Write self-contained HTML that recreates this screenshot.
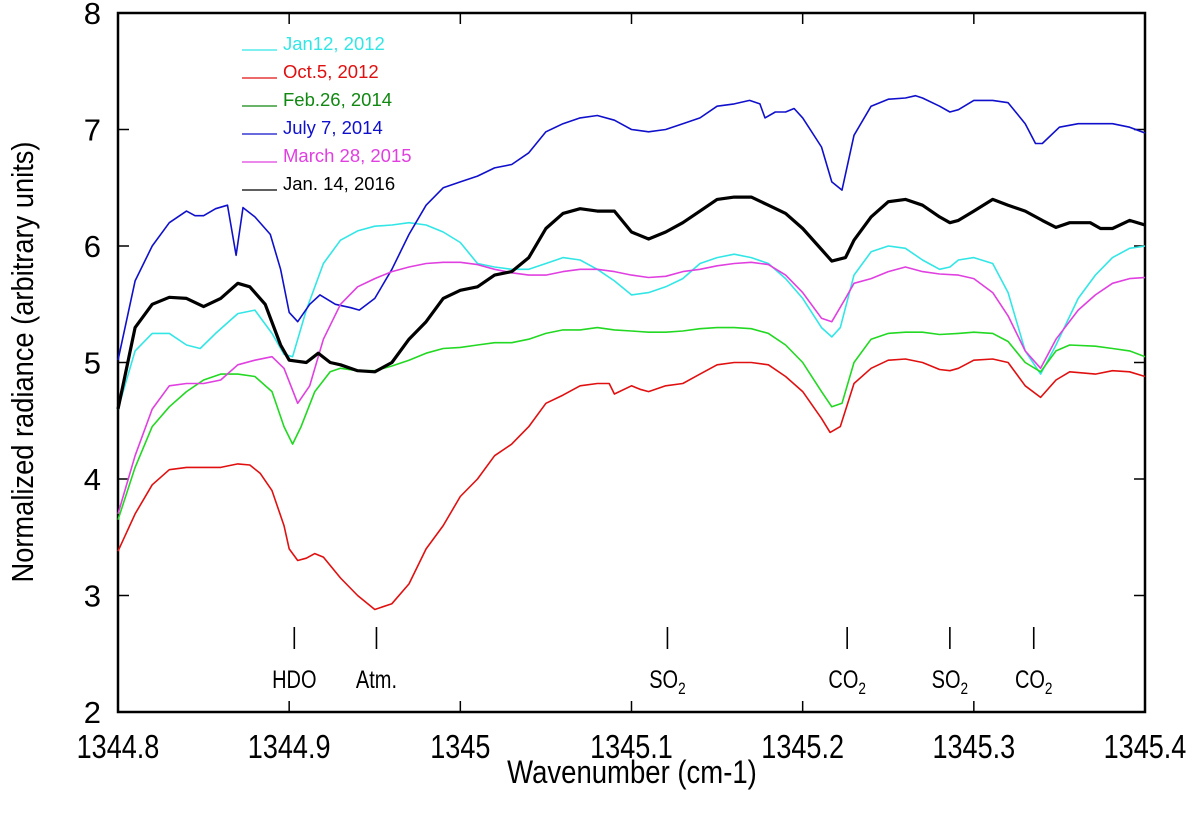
<!DOCTYPE html>
<html><head><meta charset="utf-8"><style>
body{margin:0;background:#fff}
svg{display:block}
.ax{font-family:"Liberation Sans",sans-serif;}
</style></head><body>
<svg id="chart" width="1200" height="815" xmlns="http://www.w3.org/2000/svg"></svg>
<script>
const base = 1344.8;
const xTicks = [1344.8,1344.9,1345,1345.1,1345.2,1345.3,1345.4];
const xTickLabels = ["1344.8","1344.9","1345","1345.1","1345.2","1345.3","1345.4"];
const yTicks = [2,3,4,5,6,7,8];
const seriesNames = ["Jan12, 2012","Oct.5, 2012","Feb.26, 2014","July 7, 2014","March 28, 2015","Jan. 14, 2016"];
const seriesColors = ["#33e6e6","#e01010","#22d822","#1010cc","#e040e0","#000000"];
const legendColors = ["#33e6e6","#e01010","#118811","#1010cc","#e040e0","#000000"];
// offsets from base (cm-1)
const cyanX=[0,.01,.02,.03,.04,.048,.057,.07,.08,.09,.097,.102,.11,.12,.13,.14,.15,.16,.17,.18,.19,.2,.21,.22,.23,.24,.25,.26,.27,.28,.29,.3,.31,.32,.33,.34,.35,.36,.37,.38,.39,.4,.411,.417,.422,.43,.44,.45,.46,.47,.48,.486,.491,.5,.511,.52,.53,.539,.548,.561,.571,.581,.591,.6];
const cyanY=[4.6,5.1,5.25,5.25,5.15,5.12,5.25,5.42,5.45,5.25,5.07,5.05,5.45,5.85,6.05,6.13,6.17,6.18,6.2,6.18,6.12,6.03,5.85,5.82,5.8,5.8,5.85,5.9,5.88,5.8,5.7,5.58,5.6,5.65,5.72,5.85,5.9,5.93,5.9,5.85,5.72,5.55,5.3,5.22,5.3,5.75,5.95,6.0,5.98,5.88,5.8,5.82,5.88,5.9,5.85,5.6,5.1,4.9,5.15,5.55,5.75,5.9,5.98,6.0];
const redX=[0,.01,.02,.03,.04,.05,.06,.07,.077,.083,.09,.097,.1,.105,.11,.115,.12,.13,.14,.15,.16,.17,.18,.19,.2,.21,.22,.23,.24,.25,.26,.27,.28,.287,.29,.3,.305,.31,.32,.33,.34,.35,.36,.37,.38,.39,.4,.411,.416,.422,.43,.44,.45,.46,.47,.48,.486,.491,.5,.511,.52,.53,.539,.548,.556,.571,.581,.591,.6];
const redY=[3.38,3.7,3.95,4.08,4.1,4.1,4.1,4.13,4.12,4.05,3.9,3.6,3.4,3.3,3.32,3.36,3.33,3.15,3.0,2.88,2.93,3.1,3.4,3.6,3.85,4.0,4.2,4.3,4.45,4.65,4.72,4.8,4.82,4.82,4.73,4.8,4.77,4.75,4.8,4.82,4.9,4.98,5.0,5.0,4.98,4.88,4.75,4.52,4.4,4.45,4.82,4.95,5.02,5.03,5.0,4.94,4.93,4.95,5.02,5.03,5.0,4.8,4.7,4.85,4.92,4.9,4.93,4.92,4.88];
const greenX=[0,.01,.02,.03,.04,.05,.06,.07,.08,.09,.097,.102,.107,.115,.124,.13,.14,.15,.16,.17,.18,.19,.2,.21,.22,.23,.24,.25,.26,.27,.28,.29,.3,.31,.32,.33,.34,.35,.36,.37,.38,.39,.4,.411,.417,.423,.43,.44,.45,.46,.47,.48,.491,.5,.511,.52,.53,.539,.548,.556,.571,.581,.591,.6];
const greenY=[3.65,4.1,4.45,4.62,4.75,4.85,4.9,4.9,4.88,4.75,4.45,4.3,4.45,4.75,4.92,4.95,4.93,4.93,4.97,5.02,5.08,5.12,5.13,5.15,5.17,5.17,5.2,5.25,5.28,5.28,5.3,5.28,5.27,5.26,5.26,5.27,5.29,5.3,5.3,5.29,5.25,5.15,5.0,4.75,4.62,4.65,5.0,5.2,5.25,5.26,5.26,5.24,5.25,5.26,5.25,5.18,5.0,4.92,5.1,5.15,5.14,5.12,5.1,5.05];
const blueX=[0,.01,.02,.03,.04,.045,.05,.057,.064,.069,.073,.08,.089,.095,.1,.105,.112,.118,.127,.136,.141,.15,.16,.17,.18,.19,.2,.21,.22,.23,.24,.25,.26,.27,.28,.29,.3,.31,.32,.33,.34,.35,.36,.369,.375,.378,.384,.39,.395,.4,.411,.417,.423,.43,.44,.45,.46,.466,.47,.48,.486,.491,.5,.511,.52,.53,.536,.54,.55,.561,.571,.581,.591,.6];
const blueY=[5.02,5.7,6.0,6.2,6.3,6.26,6.26,6.32,6.35,5.92,6.33,6.25,6.1,5.8,5.43,5.35,5.5,5.58,5.5,5.47,5.45,5.55,5.8,6.1,6.35,6.5,6.55,6.6,6.67,6.7,6.8,6.98,7.05,7.1,7.12,7.08,7.0,6.98,7.0,7.05,7.1,7.2,7.22,7.25,7.22,7.1,7.15,7.15,7.18,7.1,6.85,6.55,6.48,6.95,7.2,7.26,7.27,7.29,7.27,7.2,7.15,7.17,7.25,7.25,7.23,7.05,6.88,6.88,7.02,7.05,7.05,7.05,7.02,6.97];
const magX=[0,.01,.02,.03,.04,.05,.06,.07,.08,.09,.097,.105,.112,.12,.13,.14,.15,.16,.17,.18,.19,.2,.21,.22,.23,.24,.25,.26,.27,.28,.29,.3,.31,.32,.33,.34,.35,.36,.37,.38,.39,.4,.411,.417,.425,.43,.44,.45,.46,.47,.48,.491,.5,.511,.52,.53,.539,.548,.561,.571,.581,.591,.6];
const magY=[3.7,4.2,4.6,4.8,4.82,4.82,4.85,4.98,5.02,5.05,4.95,4.65,4.8,5.2,5.5,5.65,5.72,5.78,5.82,5.85,5.86,5.86,5.84,5.8,5.77,5.75,5.75,5.78,5.8,5.8,5.78,5.75,5.73,5.74,5.78,5.8,5.83,5.85,5.86,5.84,5.75,5.6,5.38,5.35,5.55,5.68,5.72,5.78,5.82,5.78,5.76,5.75,5.72,5.6,5.4,5.1,4.95,5.2,5.45,5.58,5.68,5.72,5.73];
const blackX=[0,.01,.02,.03,.04,.05,.06,.07,.077,.086,.095,.1,.11,.117,.124,.13,.14,.15,.16,.17,.18,.19,.2,.21,.22,.23,.24,.25,.26,.27,.28,.29,.3,.31,.32,.33,.34,.35,.36,.37,.38,.39,.4,.411,.417,.425,.43,.44,.45,.46,.47,.48,.486,.491,.5,.511,.52,.53,.54,.548,.556,.568,.574,.581,.591,.6];
const blackY=[4.6,5.3,5.5,5.56,5.55,5.48,5.55,5.68,5.65,5.5,5.15,5.02,5.0,5.08,5.0,4.98,4.93,4.92,5.0,5.2,5.35,5.55,5.62,5.65,5.75,5.78,5.9,6.15,6.28,6.32,6.3,6.3,6.12,6.06,6.12,6.2,6.3,6.4,6.42,6.42,6.35,6.28,6.15,5.97,5.87,5.9,6.05,6.25,6.38,6.4,6.35,6.25,6.2,6.22,6.3,6.4,6.35,6.3,6.22,6.16,6.2,6.2,6.15,6.15,6.22,6.18];
const markPos=[1344.903,1344.951,1345.121,1345.226,1345.286,1345.335];
const markLabels=["HDO","Atm.","SO|2","CO|2","SO|2","CO|2"];

const L=118,R=1145,T=13,B=712;
const sx=v=>L+(v-1344.8)/0.6*(R-L);
const sy=v=>B-(v-2)/6*(B-T);
const svg=document.getElementById('chart');
const NS='http://www.w3.org/2000/svg';
function mk(tag,at){const e=document.createElementNS(NS,tag);for(const k in at)e.setAttribute(k,at[k]);svg.appendChild(e);return e;}

let e=mk('rect',{x:L,y:T,width:R-L,height:B-T,fill:'none',stroke:'#000','stroke-width':2.5});


xTicks.forEach((t,i)=>{
  const x=sx(t);
  let a=mk('line',{x1:x,x2:x,y1:B,y2:B-11,stroke:'#000','stroke-width':1.5});
  
  
  a=mk('line',{x1:x,x2:x,y1:T,y2:T+11,stroke:'#000','stroke-width':1.5});
  
  
  const tx=mk('text',{x:x,y:B+46,'text-anchor':'middle','font-size':33,class:'ax',transform:`translate(${x},0) scale(0.82,1) translate(${-x},0)`});
  tx.textContent=xTickLabels[i];
  
  
});
yTicks.forEach(t=>{
  const y=sy(t);
  let a=mk('line',{x1:L,x2:L+11,y1:y,y2:y,stroke:'#000','stroke-width':1.5});
  
  
  a=mk('line',{x1:R,x2:R-11,y1:y,y2:y,stroke:'#000','stroke-width':1.5});
  
  
  const tx=mk('text',{x:101,y:y+11,'text-anchor':'end','font-size':31,class:'ax'});
  tx.textContent=String(t);
  
  
});
let t=mk('text',{x:632,y:783,'text-anchor':'middle','font-size':32,class:'ax',transform:'translate(632,0) scale(0.86,1) translate(-632,0)'});
t.textContent='Wavenumber (cm-1)';


t=mk('text',{x:0,y:0,'text-anchor':'middle','font-size':31,class:'ax',transform:'translate(33,362) rotate(-90) scale(0.88,1)'});
t.textContent='Normalized radiance (arbitrary units)';



const xs=[cyanX,redX,greenX,blueX,magX,blackX], ys=[cyanY,redY,greenY,blueY,magY,blackY];
const ids=['cyan','red','green','blue','magenta','black'];
xs.forEach((X,i)=>{
  const d=X.map((v,j)=>(j?'L':'M')+sx(base+v).toFixed(1)+','+sy(ys[i][j]).toFixed(1)).join(' ');
  const p=mk('path',{d:d,fill:'none',stroke:seriesColors[i],'stroke-width':i==5?3.2:1.6,'stroke-linejoin':'round'});
  
  
});

seriesNames.forEach((n,i)=>{
  const y=50+i*28;
  const l=mk('line',{x1:242,x2:277,y1:y,y2:y,stroke:legendColors[i],'stroke-width':1.3});
  
  
  const tx=mk('text',{x:283,y:y,'font-size':18.5,fill:legendColors[i],class:'ax'});
  tx.textContent=n;
  
  
});

markPos.forEach((m,i)=>{
  const x=sx(m);
  const l=mk('line',{x1:x,x2:x,y1:627,y2:649,stroke:'#000','stroke-width':1.6});
  
  
  const parts=markLabels[i].split('|');
  const tx=mk('text',{x:x,y:688,'text-anchor':'middle','font-size':25,class:'ax',transform:`translate(${x},0) scale(0.8,1) translate(${-x},0)`});
  tx.textContent=parts[0];
  if(parts[1]){const s=document.createElementNS(NS,'tspan');s.setAttribute('font-size',17);s.setAttribute('dy',6);s.textContent=parts[1];tx.appendChild(s);}
  
  
});
</script>
</body></html>
